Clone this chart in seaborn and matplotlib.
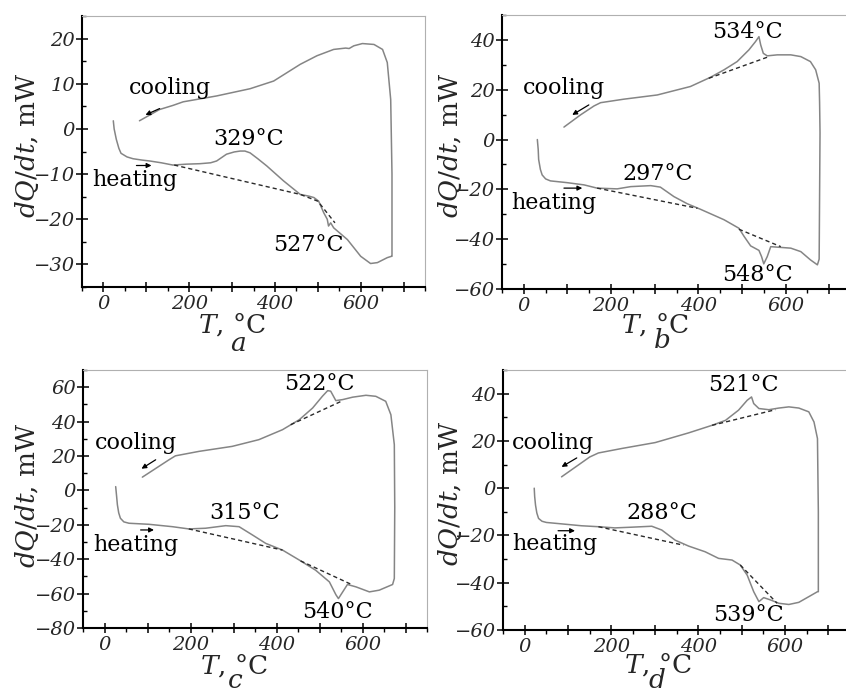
import matplotlib
matplotlib.use("Agg")
import matplotlib.pyplot as plt
import numpy as np
import pandas as pd
import seaborn as sns
from matplotlib.ticker import MultipleLocator, FuncFormatter

# ---------------- data ----------------
# panel a
heat_a_T = [23, 25, 30, 36, 41, 55, 69, 90, 108, 135, 162, 194, 225, 250, 264, 287, 305, 319, 330, 342, 360, 381, 420, 459, 480, 491, 502, 514, 522, 525, 530, 537, 569, 600, 623, 639, 662, 672]
heat_a_Q = [1.8, 0, -2.3, -4.3, -5.4, -6.2, -6.6, -6.9, -7.1, -7.5, -8.0, -7.8, -7.7, -7.5, -7.1, -5.6, -5.1, -4.9, -4.9, -5.3, -6.6, -8.2, -11.5, -14.5, -14.9, -15.2, -16.0, -18.6, -20.0, -21.5, -20.8, -21.9, -24.5, -28.2, -29.8, -29.6, -28.5, -28.2]
cool_a_T = [673, 673, 670, 662, 651, 631, 604, 584, 573, 565, 537, 498, 459, 397, 342, 264, 186, 162, 131, 84]
cool_a_Q = [-28.2, -10, 6.5, 14.7, 17.6, 18.7, 18.9, 18.4, 17.8, 17.9, 17.6, 16.2, 14.3, 10.6, 8.9, 7.3, 6.0, 5.2, 4.3, 1.8]
base_a_T = [165, 459, 500, 540]
base_a_Q = [-8.0, -14.5, -16.0, -20.8]
base_a_seg = [0, 0, 0, 0]

# panel b
heat_b_T = [31, 33, 34, 38, 42, 50, 61, 99, 138, 168, 214, 245, 291, 313, 344, 375, 405, 459, 493, 505, 520, 539, 545, 550, 558, 566, 581, 612, 635, 657, 673]
heat_b_Q = [0, -4, -8, -12, -14.2, -15.8, -16.6, -17.3, -18.2, -19.5, -19.8, -18.9, -18.5, -19.1, -22.9, -25.8, -28.0, -32.2, -35.6, -38.9, -42.7, -44.5, -47, -49.9, -47, -43, -43.2, -43.6, -45, -48.3, -50.3]
cool_b_T = [677, 679, 678, 677, 669, 657, 635, 612, 581, 558, 549, 543, 539, 531, 516, 489, 459, 428, 382, 306, 229, 176, 161, 130, 92]
cool_b_Q = [-48, 2.7, 15, 22.6, 28, 31.3, 33.3, 34, 34, 33.6, 34.6, 38, 41.3, 39.3, 36, 31.3, 28, 25, 21.3, 17.9, 16.2, 14.8, 13.5, 9.9, 5]
base_b_T = [168, 398, 493, 589, 424, 562]
base_b_Q = [-19.5, -27.6, -36, -43, 24.6, 33.3]
base_b_seg = [0, 0, 1, 1, 2, 2]

# panel c
heat_c_T = [26, 28, 30, 33, 37, 45, 57, 103, 158, 196, 235, 282, 313, 344, 375, 414, 453, 491, 523, 538, 544, 554, 565, 585, 616, 639, 670]
heat_c_Q = [2.2, -3, -8.4, -13, -16.2, -18.3, -19.1, -19.7, -21.1, -22.4, -22.0, -20.5, -21.1, -25.9, -30.8, -34.7, -40.5, -46.4, -53.2, -60.6, -62.9, -59, -54.7, -56.1, -59, -58, -54.7]
cool_c_T = [674, 675, 674, 666, 654, 631, 608, 577, 554, 538, 526, 519, 507, 484, 453, 414, 359, 297, 220, 165, 150, 88]
cool_c_Q = [-51.2, -10, 26.6, 44, 51.8, 54.7, 55.3, 54.2, 52.8, 52.2, 57.7, 58, 54.8, 47.9, 41.1, 35.3, 29.5, 25.6, 22.7, 20.1, 17.8, 7.7]
base_c_T = [196, 414, 456, 577, 433, 554]
base_c_Q = [-22.4, -34.7, -41, -55, 38.2, 52.2]
base_c_seg = [0, 0, 1, 1, 2, 2]

# panel d
heat_d_T = [22, 23, 25, 28, 32, 40, 50, 85, 131, 170, 208, 247, 293, 316, 347, 378, 416, 447, 478, 497, 513, 528, 540, 551, 567, 586, 609, 632, 655, 675]
heat_d_Q = [0, -3.5, -7.2, -10.5, -12.8, -14.0, -14.5, -15.1, -15.9, -16.3, -16.8, -16.5, -16.1, -17.7, -22.0, -24.5, -26.9, -29.7, -30.4, -32.5, -36.8, -43.8, -48.0, -46.3, -47.3, -48.7, -49.2, -48.3, -45.9, -43.8]
cool_d_T = [677, 677, 675, 667, 655, 632, 609, 586, 563, 540, 528, 523, 513, 493, 463, 432, 378, 301, 224, 170, 150, 85]
cool_d_Q = [-43.8, -10, 21, 28, 32.3, 33.9, 34.4, 33.9, 33.2, 33.7, 35.8, 38.6, 37.2, 33, 28.7, 26.6, 23.4, 19.3, 16.8, 14.9, 13.2, 4.8]
base_d_T = [170, 366, 497, 582, 432, 578]
base_d_Q = [-16.3, -24.1, -32.5, -48.7, 26.6, 33.2]
base_d_seg = [0, 0, 1, 1, 2, 2]

# annotation texts and anchor points (T, Q)
peak_labels_a = ["329°C", "527°C"]
peak_T_a = [338, 479]
peak_Q_a = [-2.2, -25.6]
peak_labels_b = ["297°C", "534°C", "548°C"]
peak_T_b = [306, 512, 535]
peak_Q_b = [-13.8, 43.3, -54.3]
peak_labels_c = ["315°C", "522°C", "540°C"]
peak_T_c = [325, 499, 542]
peak_Q_c = [-13.3, 61.6, -70.7]
peak_labels_d = ["288°C", "521°C", "539°C"]
peak_T_d = [316, 505, 517]
peak_Q_d = [-10.7, 43.8, -53.7]

mode_labels = ["cooling", "heating"]
mode_T_a, mode_Q_a = [155, 73], [9.1, -11.2]
mode_T_b, mode_Q_b = [92, 69], [20.6, -25.6]
mode_T_c, mode_Q_c = [72, 72], [27.5, -31.8]
mode_T_d, mode_Q_d = [66, 69], [19.3, -23.7]

# arrows: (start T, start Q, end T, end Q) for cooling and heating
arrow_a = [(131, 4.5, 98, 3.1), (77, -8.1, 112, -8.1)]
arrow_b = [(149, 13.9, 111, 9.9), (92, -19.5, 134, -19.5)]
arrow_c = [(119, 17.8, 86, 12.6), (84, -23, 115, -23)]
arrow_d = [(120, 12.8, 85, 9.0), (77, -18, 116, -18)]

panel_letters = ["a", "b", "c", "d"]
y_limits = [(-35, 25), (-60, 50), (-80, 70), (-60, 50)]
y_major = [10, 20, 20, 20]
x_limits = (-50, 750)
x_labelled = [0, 200, 400, 600]

# ---------------- styling ----------------
sns.set_style("ticks")
plt.rcParams["font.family"] = ["DejaVu Serif"]
plt.rcParams["mathtext.fontset"] = "dejavuserif"
plt.rcParams["axes.unicode_minus"] = True

W, H = 846, 691
fig = plt.figure(figsize=(W / 100, H / 100), dpi=100)
fig.patch.set_facecolor("white")

# axes boxes in pixels: left, top, right, bottom
boxes = [(82, 16, 425, 287), (502, 15, 851, 289), (83, 370, 427, 628), (503, 370, 850, 630)]
ylabel_pos = [(27, 145), (450, 145), (27, 495), (450, 493)]
xlabel_pos = [(232, 324), (655, 324), (234, 665), (658, 664)]
letter_pos = [(238, 344), (662, 341), (235, 681), (657, 681)]

panels = [
    (heat_a_T, heat_a_Q, cool_a_T, cool_a_Q, base_a_T, base_a_Q, base_a_seg,
     peak_labels_a, peak_T_a, peak_Q_a, mode_T_a, mode_Q_a, arrow_a),
    (heat_b_T, heat_b_Q, cool_b_T, cool_b_Q, base_b_T, base_b_Q, base_b_seg,
     peak_labels_b, peak_T_b, peak_Q_b, mode_T_b, mode_Q_b, arrow_b),
    (heat_c_T, heat_c_Q, cool_c_T, cool_c_Q, base_c_T, base_c_Q, base_c_seg,
     peak_labels_c, peak_T_c, peak_Q_c, mode_T_c, mode_Q_c, arrow_c),
    (heat_d_T, heat_d_Q, cool_d_T, cool_d_Q, base_d_T, base_d_Q, base_d_seg,
     peak_labels_d, peak_T_d, peak_Q_d, mode_T_d, mode_Q_d, arrow_d),
]

def xfmt(v, pos):
    iv = int(round(v))
    return f"{iv}" if iv in x_labelled else ""

def yfmt(v, pos):
    iv = int(round(v))
    return f"{iv}".replace("-", "\u2212")

for i, (hT, hQ, cT, cQ, bT, bQ, bS, plab, pT, pQ, mT, mQ, arrs) in enumerate(panels):
    l, t, r, b = boxes[i]
    ax = fig.add_axes([l / W, 1 - b / H, (r - l) / W, (b - t) / H])
    ax.set_facecolor("white")

    curve = pd.DataFrame({"T": hT + cT, "Q": hQ + cQ})
    sns.lineplot(data=curve, x="T", y="Q", sort=False, estimator=None,
                 color="#858585", linewidth=1.1, ax=ax)
    base = pd.DataFrame({"T": bT, "Q": bQ, "seg": bS})
    sns.lineplot(data=base, x="T", y="Q", units="seg", estimator=None, sort=False,
                 color="#2a2a2a", linewidth=1.0, linestyle=(0, (3, 2.2)), ax=ax)

    for txt, x, y in zip(plab, pT, pQ):
        ax.text(x, y, txt, fontsize=16, ha="center", va="center", color="black")
    for txt, x, y in zip(mode_labels, mT, mQ):
        ax.text(x, y, txt, fontsize=16, ha="center", va="center", color="black")
    for (x0, y0, x1, y1) in arrs:
        ax.annotate("", xy=(x1, y1), xytext=(x0, y0),
                    arrowprops=dict(arrowstyle="-|>", color="black", lw=0.9,
                                    mutation_scale=7, shrinkA=0, shrinkB=0))

    ax.set_xlim(*x_limits)
    ax.set_ylim(*y_limits[i])
    ax.set_xlabel("")
    ax.set_ylabel("")
    ax.xaxis.set_major_locator(MultipleLocator(100))
    ax.xaxis.set_minor_locator(MultipleLocator(50))
    ax.xaxis.set_major_formatter(FuncFormatter(xfmt))
    ax.yaxis.set_major_locator(MultipleLocator(y_major[i]))
    ax.yaxis.set_minor_locator(MultipleLocator(y_major[i] / 2))
    ax.yaxis.set_major_formatter(FuncFormatter(yfmt))
    ax.tick_params(axis="x", which="major", direction="inout", length=7, width=1.1,
                   labelsize=14, pad=2, color="black")
    ax.tick_params(axis="x", which="minor", direction="out", length=3, width=1.0, color="black")
    ax.tick_params(axis="y", which="major", direction="inout", length=8, width=1.1,
                   labelsize=14, pad=1, color="black")
    ax.tick_params(axis="y", which="minor", direction="in", length=3, width=1.0, color="black")
    for lab in ax.get_xticklabels() + ax.get_yticklabels():
        lab.set_fontstyle("italic")
    for side in ("left", "bottom"):
        ax.spines[side].set_color("black")
        ax.spines[side].set_linewidth(1.5)
    for side in ("top", "right"):
        ax.spines[side].set_color("#b0b0b0")
        ax.spines[side].set_linewidth(0.8)
    ax.grid(False)

    yx, yy = ylabel_pos[i]
    fig.text(yx / W, 1 - yy / H, r"$dQ/dt$, mW", rotation=90, fontsize=19,
             ha="center", va="center")
    xx, xy = xlabel_pos[i]
    fig.text(xx / W, 1 - xy / H, r"$T$, °C", fontsize=19, ha="center", va="center")
    lx, ly = letter_pos[i]
    fig.text(lx / W, 1 - ly / H, panel_letters[i], fontsize=19, fontstyle="italic",
             ha="center", va="center")

fig.savefig("out.png", dpi=100, facecolor="white")
